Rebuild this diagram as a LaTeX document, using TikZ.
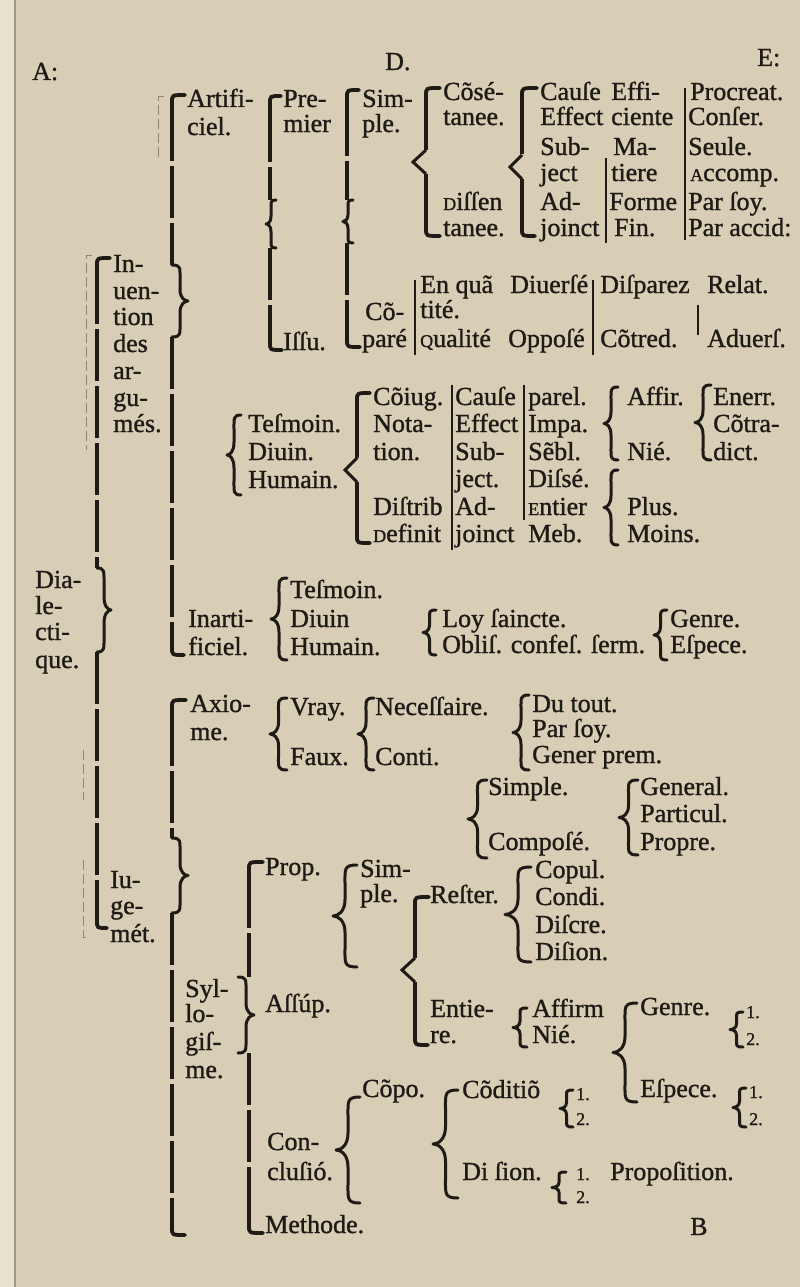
\documentclass[tikz,border=0pt]{standalone}
\usepackage{fontspec}
\setmainfont{Liberation Serif}[FakeBold=1.1]
\definecolor{ink}{RGB}{30,26,22}
\definecolor{paper}{RGB}{216,206,181}
\definecolor{gutter}{RGB}{232,225,204}
\newcommand\Tx[4]{\node[txt] (#1) at (#2,#3) {#4};}
\newcommand\Tn[4]{\node[num] (#1) at (#2,#3) {#4};}
\newcommand\SmC[1]{{\fontsize{18}{18}\selectfont #1}}
% "{" : tip x, top, bottom, width
\newcommand\BrL[4]{%
 \pgfmathsetmacro\brmid{(#2+#3)/2}\pgfmathsetmacro\brh{#3-#2}%
 \draw[brc] ({#1+#4},#2) .. controls ({#1+0.45*#4},#2) and ({#1+0.5*#4},{#2+0.04*\brh}) .. ({#1+0.5*#4},{#2+0.18*\brh})
  -- ({#1+0.5*#4},{\brmid-0.16*\brh}) .. controls ({#1+0.5*#4},{\brmid-0.04*\brh}) and ({#1+0.2*#4},\brmid) .. (#1,\brmid)
  .. controls ({#1+0.2*#4},\brmid) and ({#1+0.5*#4},{\brmid+0.04*\brh}) .. ({#1+0.5*#4},{\brmid+0.16*\brh})
  -- ({#1+0.5*#4},{#3-0.18*\brh}) .. controls ({#1+0.5*#4},{#3-0.04*\brh}) and ({#1+0.45*#4},#3) .. ({#1+#4},#3);}
% "}" : ends x, top, bottom, width (tip at x+w)
\newcommand\BrR[4]{%
 \pgfmathsetmacro\brmid{(#2+#3)/2}\pgfmathsetmacro\brh{#3-#2}%
 \draw[brc] (#1,#2) .. controls ({#1+0.55*#4},#2) and ({#1+0.5*#4},{#2+0.04*\brh}) .. ({#1+0.5*#4},{#2+0.18*\brh})
  -- ({#1+0.5*#4},{\brmid-0.16*\brh}) .. controls ({#1+0.5*#4},{\brmid-0.04*\brh}) and ({#1+0.8*#4},\brmid) .. ({#1+#4},\brmid)
  .. controls ({#1+0.8*#4},\brmid) and ({#1+0.5*#4},{\brmid+0.04*\brh}) .. ({#1+0.5*#4},{\brmid+0.16*\brh})
  -- ({#1+0.5*#4},{#3-0.18*\brh}) .. controls ({#1+0.5*#4},{#3-0.04*\brh}) and ({#1+0.55*#4},#3) .. (#1,#3);}
\newcommand\HkT[3]{\draw[hook] (#1,{#2+16}) -- (#1,{#2+7}) .. controls (#1,#2) .. ({#1+#3},#2);}
\newcommand\HkB[3]{\draw[hook] (#1,{#2-16}) -- (#1,{#2-7}) .. controls (#1,#2) .. ({#1+#3},#2);}
\newcommand\TipL[3]{\draw[tipl] (#1,{#3-12}) -- ({#1-#2},#3) -- (#1,{#3+12});}
\begin{document}
\begin{tikzpicture}[x=1pt,y=-1pt,
 txt/.style={anchor=base west, inner sep=0pt, text=ink, font=\fontsize{26}{26}\selectfont},
 num/.style={anchor=base west, inner sep=0pt, text=ink, font=\fontsize{18}{18}\selectfont},
 rule/.style={draw=ink, line width=3.8pt, dash pattern=on 52pt off 5pt},
 hook/.style={draw=ink, line width=3.8pt, line cap=round},
 tipl/.style={draw=ink, line width=3pt, line join=miter},
 brc/.style={draw=ink, line width=3pt, line cap=round, line join=round},
 thin/.style={draw=ink, line width=1.2pt},
 faint/.style={draw=ink!40!paper, line width=1pt, dash pattern=on 10pt off 4pt}]
\useasboundingbox (0,0) rectangle (800,1287);
\fill[paper] (0,0) rectangle (800,1287);
\fill[gutter] (0,0) rectangle (14,1287);
\draw[ink!30!paper, line width=1.5pt] (15,0) -- (15,1287);

% ---------- header ----------
\Tx{hA}{32}{80}{A:}
\Tx{hD}{385}{70}{D.}
\Tx{hE}{757}{66}{E:}

% ---------- Dialectique ----------
\Tx{dia1}{35}{588}{Dia-}
\Tx{dia2}{35}{614}{le-}
\Tx{dia3}{35}{640}{cti-}
\Tx{dia4}{35}{668}{que.}
\HkT{97}{258}{13}
\draw[rule] (97,272) -- (97,568);
\BrR{97}{568}{652}{14}
\draw[rule] (97,652) -- (97,914);
\HkB{97}{928}{10}
\draw[faint] (92,255) -- (86,255) -- (86,450);
\draw[faint] (83,750) -- (83,800);
\draw[faint] (83,860) -- (83,937) -- (90,937);

% ---------- Inuention des argumes ----------
\Tx{inu1}{113}{272}{In-}
\Tx{inu2}{113}{299}{uen-}
\Tx{inu3}{113}{325}{tion}
\Tx{inu4}{113}{352}{des}
\Tx{inu5}{113}{379}{ar-}
\Tx{inu6}{113}{406}{gu-}
\Tx{inu7}{113}{432}{més.}
\HkT{172}{95}{13}
\draw[rule] (172,109) -- (172,265);
\BrR{172}{265}{337}{16}
\draw[rule] (172,337) -- (172,640);
\HkB{172}{655}{12}
\draw[faint] (164,97) -- (158,97) -- (158,160);

\Tx{art1}{187}{107}{Artifi-}
\Tx{art2}{187}{135}{ciel.}

% Premier / Issu
\Tx{pre1}{283}{107}{Pre-}
\Tx{pre2}{283}{132}{mier}
\Tx{issu}{283}{350}{Iſſu.}
\HkT{270}{96}{11}
\draw[rule] (270,110) -- (270,200);
\BrL{266}{200}{248}{10}
\draw[rule] (270,248) -- (270,336);
\HkB{270}{350}{12}

% Simple / Compare
\Tx{sim1}{362}{107}{Sim-}
\Tx{sim2}{362}{132}{ple.}
\Tx{cop1}{365}{320}{Cõ-}
\Tx{cop2}{362}{347}{paré}
\HkT{347}{90}{12}
\draw[rule] (347,104) -- (347,200);
\BrL{343}{200}{243}{10}
\draw[rule] (347,243) -- (347,333);
\HkB{347}{347}{13}

% Cosetanee / Dissentanee
\Tx{cos1}{443}{100}{Cõsé-}
\Tx{cos2}{443}{125}{tanee.}
\Tx{dis1}{443}{210}{\SmC{D}iſſen}
\Tx{dis2}{443}{236}{tanee.}
\HkT{426}{88}{14}
\draw[rule] (426,102) -- (426,150);
\TipL{426}{13}{162}
\draw[rule] (426,174) -- (426,222);
\HkB{426}{236}{14}

% Cause ... joinct
\Tx{ca1}{540}{100}{Cauſe}
\Tx{ca2}{540}{125}{Effect}
\Tx{ca3}{540}{155}{Sub-}
\Tx{ca4}{540}{181}{ject}
\Tx{ca5}{540}{210}{Ad-}
\Tx{ca6}{540}{236}{joinct}
\HkT{522}{88}{15}
\draw[rule] (522,102) -- (522,155);
\TipL{522}{12}{167}
\draw[rule] (522,179) -- (522,222);
\HkB{522}{236}{13}

\Tx{ef1}{611}{100}{Effi-}
\Tx{ef2}{611}{125}{ciente}
\Tx{ma1}{613}{155}{Ma-}
\Tx{ma2}{611}{181}{tiere}
\Tx{fo}{609}{210}{Forme}
\Tx{fi}{614}{236}{Fin.}
\draw[thin] (606,158) -- (606,243);

\Tx{pr1}{690}{100}{Procreat.}
\Tx{pr2}{688}{125}{Conſer.}
\Tx{pr3}{688}{155}{Seule.}
\Tx{pr4}{690}{181}{\SmC{A}ccomp.}
\Tx{pr5}{688}{210}{Par ſoy.}
\Tx{pr6}{688}{236}{Par accid:}
\draw[thin] (685,88) -- (685,240);

% En quantite / qualite
\Tx{eq1}{420}{293}{En quã}
\Tx{eq2}{420}{318}{tité.}
\Tx{eq3}{420}{347}{\SmC{Q}ualité}
\Tx{dv1}{510}{293}{Diuerſé}
\Tx{dv2}{508}{347}{Oppoſé}
\Tx{dp1}{600}{293}{Diſparez}
\Tx{dp2}{600}{347}{Cõtred.}
\Tx{rl1}{707}{293}{Relat.}
\Tx{rl2}{707}{347}{Aduerſ.}
\draw[thin] (415,280) -- (415,355);
\draw[thin] (593,280) -- (593,355);
\draw[thin] (698,305) -- (698,335);

% ---------- middle block ----------
\BrL{227}{415}{495}{14}
\Tx{te1}{248}{432}{Teſmoin.}
\Tx{te2}{248}{460}{Diuin.}
\Tx{te3}{248}{488}{Humain.}

\Tx{cj1}{373}{405}{Cõiug.}
\Tx{cj2}{373}{432}{Nota-}
\Tx{cj3}{373}{460}{tion.}
\Tx{cj4}{373}{515}{Diſtrib}
\Tx{cj5}{373}{542}{\SmC{D}efinit}
\HkT{357}{393}{13}
\draw[rule] (357,407) -- (357,458);
\TipL{357}{12}{470}
\draw[rule] (357,482) -- (357,529);
\HkB{357}{543}{13}

\draw[thin] (452,385) -- (452,550);
\Tx{cb1}{455}{405}{Cauſe}
\Tx{cb2}{455}{432}{Effect}
\Tx{cb3}{455}{460}{Sub-}
\Tx{cb4}{455}{487}{ject.}
\Tx{cb5}{455}{515}{Ad-}
\Tx{cb6}{455}{542}{joinct}

\draw[thin] (524,385) -- (524,520);
\Tx{pa1}{528}{405}{parel.}
\Tx{pa2}{528}{432}{Impa.}
\Tx{pa3}{528}{460}{Sẽbl.}
\Tx{pa4}{528}{487}{Diſsé.}
\Tx{pa5}{528}{515}{\SmC{E}ntier}
\Tx{pa6}{528}{542}{Meb.}

\BrL{604}{387}{460}{14}
\Tx{af1}{627}{405}{Affir.}
\Tx{af2}{627}{460}{Nié.}
\BrL{604}{470}{545}{14}
\Tx{pl1}{627}{515}{Plus.}
\Tx{pl2}{627}{542}{Moins.}
\BrL{695}{385}{460}{16}
\Tx{en1}{713}{405}{Enerr.}
\Tx{en2}{713}{432}{Cõtra-}
\Tx{en3}{713}{460}{dict.}

% ---------- Inartificiel ----------
\Tx{ia1}{188}{627}{Inarti-}
\Tx{ia2}{188}{655}{ficiel.}
\BrL{271}{578}{660}{16}
\Tx{tf1}{290}{598}{Teſmoin.}
\Tx{tf2}{290}{627}{Diuin}
\Tx{tf3}{290}{655}{Humain.}
\BrL{423}{610}{655}{13}
\Tx{lo1}{442}{627}{Loy ſaincte.}
\Tx{lo2}{442}{653}{Obliſ. confeſ. ſerm.}
\BrL{654}{610}{660}{13}
\Tx{ge1}{670}{627}{Genre.}
\Tx{ge2}{670}{653}{Eſpece.}

% ---------- Iugement ----------
\Tx{iu1}{110}{888}{Iu-}
\Tx{iu2}{110}{914}{ge-}
\Tx{iu3}{110}{942}{mét.}
\HkT{172}{700}{14}
\draw[rule] (172,714) -- (172,838);
\BrR{172}{838}{913}{16}
\draw[rule] (172,913) -- (172,1221);
\HkB{172}{1235}{13}

\Tx{ax1}{190}{712}{Axio-}
\Tx{ax2}{190}{740}{me.}
\BrL{270}{698}{770}{17}
\Tx{vr1}{290}{715}{Vray.}
\Tx{vr2}{290}{765}{Faux.}
\BrL{358}{698}{770}{16}
\Tx{ne1}{375}{715}{Neceſſaire.}
\Tx{ne2}{375}{765}{Conti.}
\BrL{513}{695}{770}{16}
\Tx{du1}{532}{712}{Du tout.}
\Tx{du2}{532}{737}{Par ſoy.}
\Tx{du3}{532}{763}{Gener prem.}
\BrL{468}{780}{858}{19}
\Tx{sc1}{488}{795}{Simple.}
\Tx{sc2}{488}{850}{Compoſé.}
\BrL{619}{780}{855}{19}
\Tx{gp1}{640}{795}{General.}
\Tx{gp2}{640}{822}{Particul.}
\Tx{gp3}{640}{850}{Propre.}

% Prop / Assump / Conclusion / Methode
\Tx{prop}{265}{875}{Prop.}
\HkT{249}{862}{14}
\draw[rule] (249,876) -- (249,977);
\BrR{238}{977}{1053}{16}
\draw[rule] (249,1053) -- (249,1219);
\HkB{249}{1233}{14}
\Tx{asu}{265}{1012}{Aſſúp.}
\Tx{con1}{267}{1150}{Con-}
\Tx{con2}{267}{1180}{cluſió.}
\Tx{meth}{265}{1233}{Methode.}

\Tx{sy1}{185}{997}{Syl-}
\Tx{sy2}{185}{1022}{lo-}
\Tx{sy3}{185}{1050}{giſ-}
\Tx{sy4}{185}{1078}{me.}

\BrL{333}{865}{967}{24}
\Tx{sp1}{360}{877}{Sim-}
\Tx{sp2}{360}{902}{ple.}

\Tx{re1}{430}{903}{Reſter.}
\Tx{re2}{430}{1017}{Entie-}
\Tx{re3}{430}{1043}{re.}
\HkT{415}{897}{14}
\draw[rule] (415,911) -- (415,958);
\TipL{415}{13}{970}
\draw[rule] (415,982) -- (415,1031);
\HkB{415}{1045}{13}

\BrL{505}{867}{962}{26}
\Tx{cu1}{535}{878}{Copul.}
\Tx{cu2}{535}{905}{Condi.}
\Tx{cu3}{535}{933}{Diſcre.}
\Tx{cu4}{535}{960}{Diſion.}

\BrL{513}{1008}{1047}{14}
\Tx{an1}{532}{1017}{Affirm}
\Tx{an2}{532}{1043}{Nié.}

\BrL{613}{1003}{1102}{24}
\Tx{gn1}{640}{1015}{Genre.}
\Tx{gn2}{640}{1097}{Eſpece.}
\BrL{730}{1012}{1047}{13}
\Tn{g1}{746}{1018}{1.}
\Tn{g2}{746}{1045}{2.}
\BrL{733}{1088}{1127}{13}
\Tn{e1}{749}{1098}{1.}
\Tn{e2}{749}{1125}{2.}

\Tx{cpo}{362}{1097}{Cõpo.}
\BrL{336}{1097}{1203}{24}
\BrL{433}{1090}{1198}{25}
\Tx{cd}{462}{1098}{Cõditiõ}
\Tx{ds}{462}{1180}{Di ſion.}
\BrL{560}{1090}{1127}{13}
\Tn{c1}{576}{1100}{1.}
\Tn{c2}{576}{1125}{2.}
\BrL{552}{1172}{1203}{14}
\Tn{d1}{576}{1180}{1.}
\Tn{d2}{576}{1203}{2.}
\Tx{pos}{610}{1180}{Propoſition.}

\Tx{sig}{690}{1235}{B}
\end{tikzpicture}
\end{document}
